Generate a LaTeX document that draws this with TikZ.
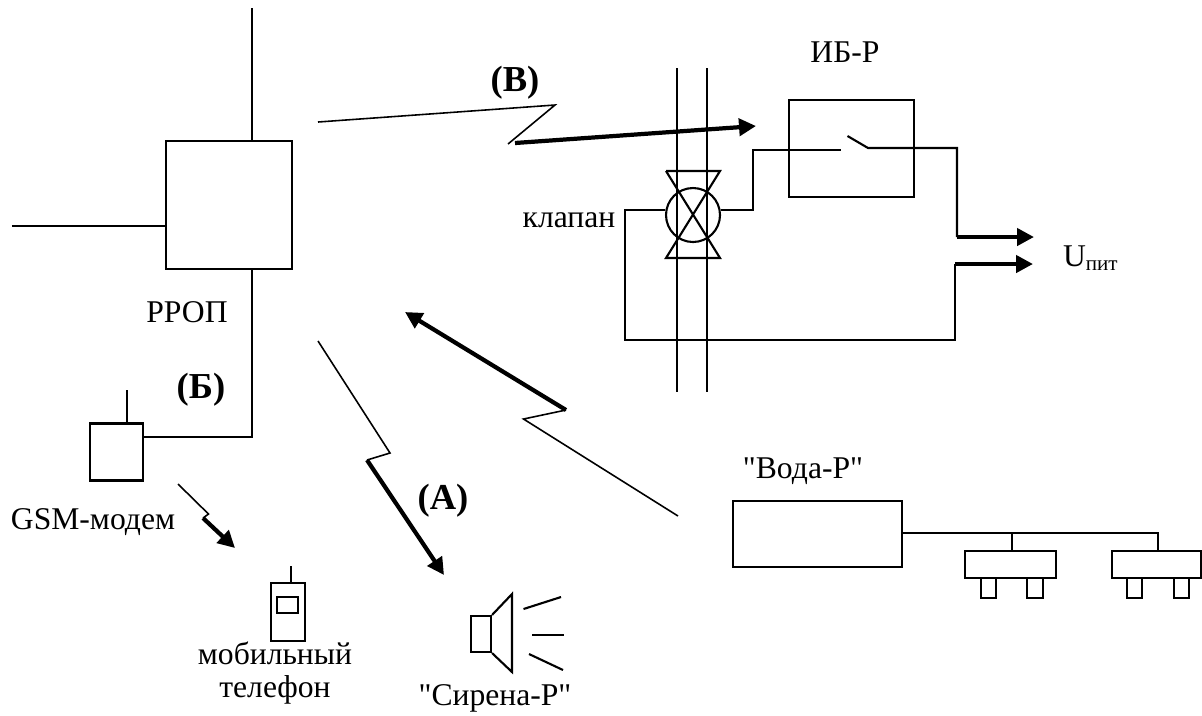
\documentclass[tikz,border=0pt]{standalone}
\usepackage{fontspec}
\setmainfont{Liberation Serif}[Ligatures=TeXOff]
\usetikzlibrary{arrows.meta}

\tikzset{
	block/.style={draw, rectangle, inner sep=0pt, line width=0.6pt},
	lbl/.style={inner sep=0pt, font=\fontsize{9}{11}\selectfont},
	tag/.style={inner sep=0pt, font=\fontsize{10.4}{12}\selectfont\bfseries},
	wire/.style={line width=0.6pt},
	thin wire/.style={line width=0.45pt},
	fat/.style={line width=1.2pt, -{Triangle[length=1.7mm, width=1.7mm]}}
}

\begin{document}
\begin{tikzpicture}[x=1cm, y=-1cm, wire]
	\useasboundingbox (0, 0) rectangle (12.02, 7.15);

	% main unit
	\node[block, minimum width=1.26cm, minimum height=1.28cm] (rrop) at (2.29, 2.05) {};
	\node[lbl] (rroplbl) at (1.87, 3.12) {РРОП};
	\coordinate (inA) at (2.52, 0.08);
	\coordinate (inB) at (0.12, 2.26);
	\coordinate (turn) at (2.52, 4.37);
	\draw (inA) -- (inA |- rrop.north);
	\draw (inB) -- (inB -| rrop.west);

	% modem
	\node[block, minimum width=0.53cm, minimum height=0.57cm] (modem) at (1.165, 4.52) {};
	\coordinate (modemant) at (1.27, 3.90);
	\node[lbl] (modemlbl) at (0.93, 5.22) {GSM-модем};
	\node[tag] (tagB) at (2.01, 3.90) {(Б)};
	\draw (modemant) -- (modemant |- modem.north);
	\draw (turn |- rrop.south) -- (turn) -- (turn -| modem.east);

	% phone
	\node[block, minimum width=0.34cm, minimum height=0.58cm] (phone) at (2.88, 6.12) {};
	\node[block, minimum width=0.21cm, minimum height=0.16cm] (screen) at (2.875, 6.05) {};
	\coordinate (phoneant) at (2.91, 5.66);
	\draw (phoneant) -- (phoneant |- phone.north);
	\node[lbl] (phonelbl1) at (2.75, 6.53) {мобильный};
	\node[lbl] (phonelbl2) at (2.75, 6.90) {телефон};

	\coordinate (g0) at (1.78, 4.84);
	\coordinate (g1) at (2.085, 5.14);
	\coordinate (g2) at (2.03, 5.18);
	\coordinate (g3) at (2.35, 5.48);
	\draw[thin wire] (g0) -- (g1) -- (g2);
	\draw[fat] (g2) -- (g3);

	% siren
	\node[block, minimum width=0.20cm, minimum height=0.36cm] (siren) at (4.81, 6.34) {};
	\coordinate (hornA) at (5.12, 5.94);
	\coordinate (hornB) at (5.12, 6.72);
	\draw (siren.north east) -- (hornA) -- (hornB) -- (siren.south east);
	\coordinate (sA0) at (5.235, 6.09);
	\coordinate (sA1) at (5.61, 5.97);
	\coordinate (sB0) at (5.32, 6.35);
	\coordinate (sB1) at (5.64, 6.35);
	\coordinate (sC0) at (5.29, 6.54);
	\coordinate (sC1) at (5.63, 6.70);
	\draw (sA0) -- (sA1);
	\draw (sB0) -- (sB1);
	\draw (sC0) -- (sC1);
	\node[lbl] (sirenlbl) at (4.95, 6.98) {"Сирена-Р"};

	\coordinate (a0) at (3.18, 3.41);
	\coordinate (a1) at (3.90, 4.53);
	\coordinate (a2) at (3.67, 4.60);
	\coordinate (a3) at (4.44, 5.75);
	\node[tag] (tagA) at (4.43, 5.01) {(А)};
	\draw[thin wire] (a0) -- (a1) -- (a2);
	\draw[fat] (a2) -- (a3);

	% link to the relay
	\coordinate (b0) at (3.18, 1.22);
	\coordinate (b1) at (5.55, 1.05);
	\coordinate (b2) at (5.08, 1.44);
	\coordinate (b3) at (5.15, 1.43);
	\coordinate (b4) at (7.56, 1.26);
	\node[tag] (tagV) at (5.15, 0.83) {(В)};
	\draw[thin wire] (b0) -- (b1) -- (b2);
	\draw[fat] (b3) -- (b4);

	% pipe
	\coordinate (p0) at (6.77, 0.68);
	\coordinate (p1) at (6.77, 3.92);
	\coordinate (p2) at (7.07, 0.68);
	\coordinate (p3) at (7.07, 3.92);
	\draw (p0) -- (p1);
	\draw (p2) -- (p3);

	% valve
	\node[draw, circle, inner sep=0pt, minimum size=0.54cm] (valve) at (6.93, 2.15) {};
	\coordinate (vA) at (6.66, 1.71);
	\coordinate (vB) at (7.20, 1.71);
	\coordinate (vC) at (7.20, 2.58);
	\coordinate (vD) at (6.66, 2.58);
	\draw (vA) -- (vB) -- (vD) -- (vC) -- (vA);
	\node[lbl] (valvelbl) at (5.69, 2.20) {клапан};

	% relay
	\node[block, minimum width=1.25cm, minimum height=0.97cm] (relay) at (8.515, 1.485) {};
	\node[lbl] (relaylbl) at (8.45, 0.52) {ИБ-Р};
	\coordinate (c0) at (7.53, 2.10);
	\coordinate (c1) at (7.53, 1.50);
	\coordinate (sw0) at (8.41, 1.50);
	\coordinate (sw1) at (8.475, 1.36);
	\coordinate (sw2) at (8.68, 1.48);
	\coordinate (c2) at (9.57, 1.48);
	\coordinate (c3) at (9.57, 2.37);
	\coordinate (c4) at (10.34, 2.37);
	\coordinate (d0) at (6.25, 2.10);
	\coordinate (d1) at (6.25, 3.40);
	\coordinate (d2) at (9.55, 3.40);
	\coordinate (d3) at (9.55, 2.64);
	\coordinate (d4) at (10.33, 2.64);
	\draw (c0 -| valve.east) -- (c0) -- (c1) -- (sw0);
	\draw (sw1) -- (sw2) -- (c2) -- (c3);
	\draw[fat] (c3) -- (c4);
	\draw (d0 -| valve.west) -- (d0) -- (d1) -- (d2) -- (d3);
	\draw[fat] (d3) -- (d4);
	\node[lbl, anchor=west] (powerlbl) at (10.62, 2.58) {U\textsubscript{пит}};

	% water sensor
	\node[block, minimum width=1.69cm, minimum height=0.66cm] (water) at (8.175, 5.34) {};
	\node[lbl] (waterlbl) at (8.03, 4.71) {"Вода-Р"};
	\coordinate (w0) at (6.78, 5.16);
	\coordinate (w1) at (5.235, 4.19);
	\coordinate (w2) at (5.66, 4.10);
	\coordinate (w3) at (4.05, 3.12);
	\draw[thin wire] (w0) -- (w1) -- (w2);
	\draw[fat] (w2) -- (w3);

	\node[block, minimum width=0.91cm, minimum height=0.27cm] (probeA) at (10.105, 5.645) {};
	\node[block, minimum width=0.89cm, minimum height=0.27cm] (probeB) at (11.565, 5.645) {};
	\node[block, minimum width=0.15cm, minimum height=0.20cm] (legA) at (9.885, 5.88) {};
	\node[block, minimum width=0.16cm, minimum height=0.20cm] (legB) at (10.35, 5.88) {};
	\node[block, minimum width=0.15cm, minimum height=0.20cm] (legC) at (11.345, 5.88) {};
	\node[block, minimum width=0.15cm, minimum height=0.20cm] (legD) at (11.815, 5.88) {};
	\coordinate (t0) at (10.12, 5.33);
	\coordinate (t1) at (11.58, 5.33);
	\draw (water.east |- t1) -- (t1) -- (t1 |- probeB.north);
	\draw (t0) -- (t0 |- probeA.north);
\end{tikzpicture}
\end{document}
